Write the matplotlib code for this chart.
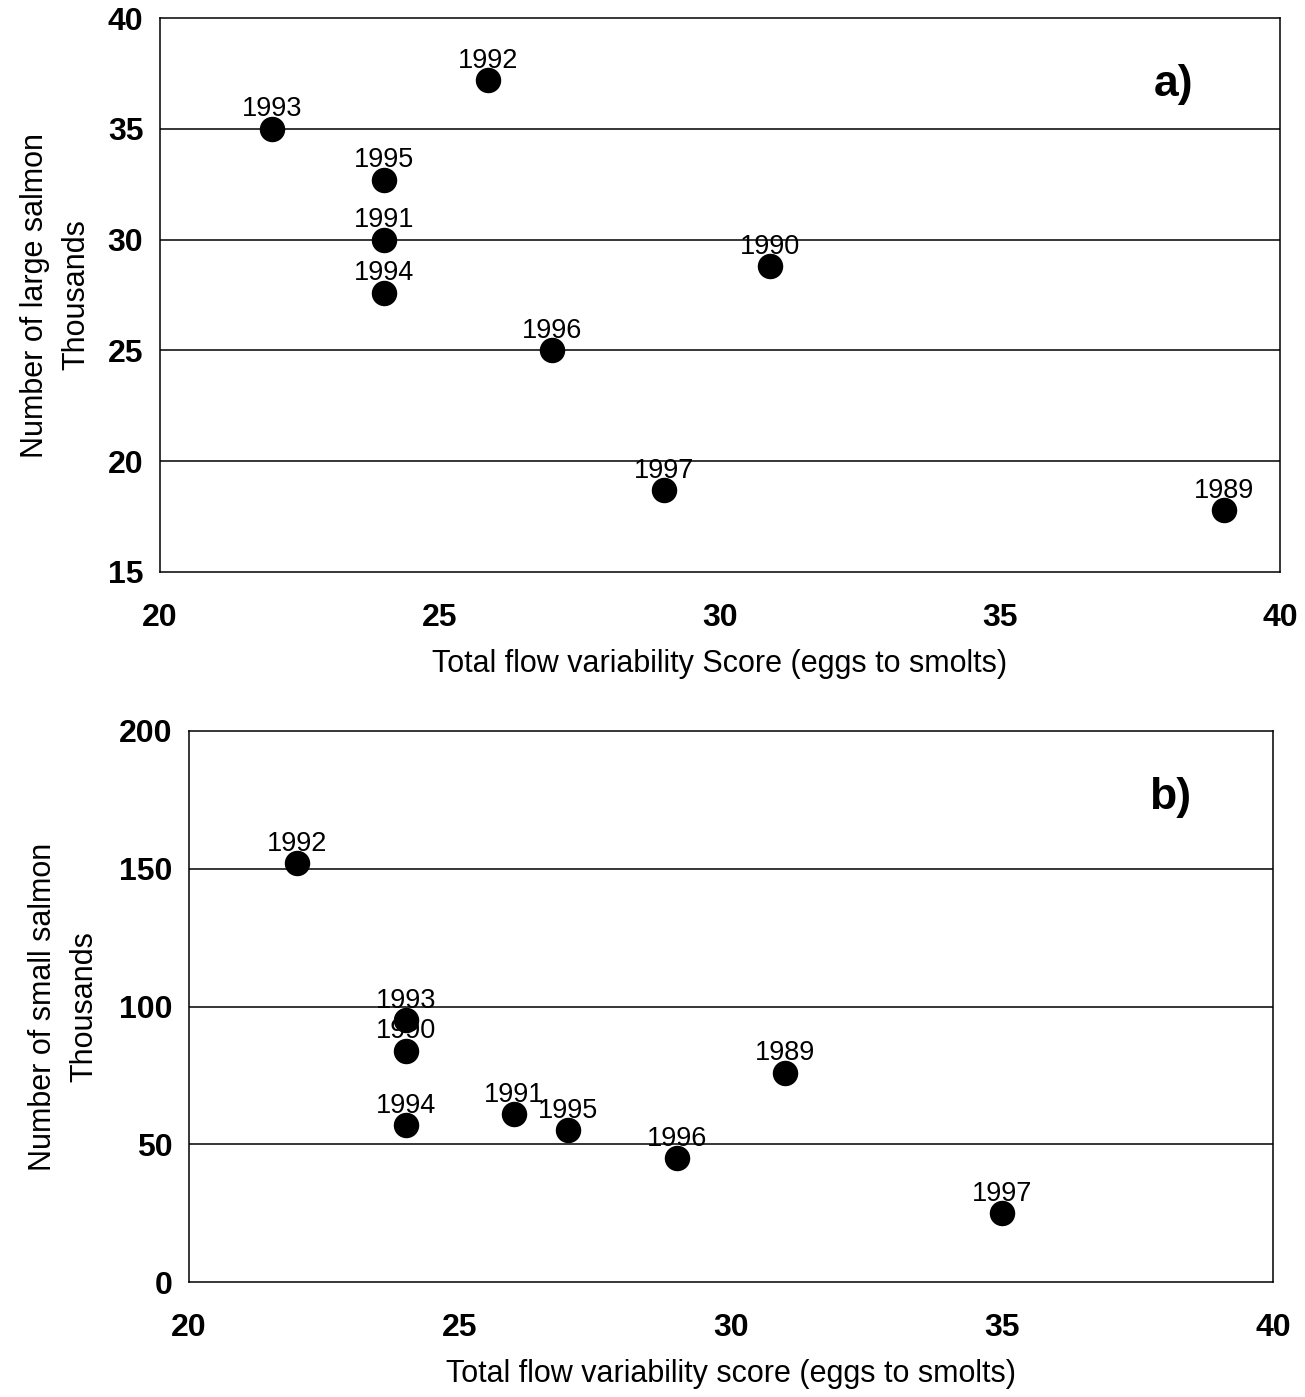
import matplotlib
matplotlib.use("Agg")
import matplotlib.pyplot as plt

plt.rcParams["font.family"] = ["Liberation Sans", "DejaVu Sans"]

# panel a) large salmon
years_a = ["1993", "1992", "1995", "1991", "1994", "1996", "1990", "1997", "1989"]
flow_a = [22, 25.85, 24, 24, 24, 27, 30.9, 29, 39]
large_a = [35.0, 37.2, 32.7, 30.0, 27.6, 25.0, 28.8, 18.7, 17.8]

# panel b) small salmon
years_b = ["1992", "1993", "1990", "1994", "1991", "1995", "1996", "1989", "1997"]
flow_b = [22, 24, 24, 24, 26, 27, 29, 31, 35]
small_b = [152, 95, 84, 57, 61, 55, 45, 76, 25]

fig = plt.figure(figsize=(13.05, 13.97), dpi=100)
W, H = 1305, 1397


def make_axes(left, right, top, bottom):
    return fig.add_axes([left / W, 1 - bottom / H, (right - left) / W, (bottom - top) / H])


def style(ax, ylim, yticks, xlabel, ylabel, tag, ypad):
    ax.set_xlim(20, 40)
    ax.set_ylim(*ylim)
    ax.set_xticks([20, 25, 30, 35, 40])
    ax.set_yticks(yticks)
    ax.tick_params(length=0, labelsize=23)
    ax.tick_params(axis="x", pad=22)
    ax.tick_params(axis="y", pad=12)
    for lab in ax.get_xticklabels() + ax.get_yticklabels():
        lab.set_fontweight("bold")
    for y in yticks[1:-1]:
        ax.axhline(y, color="black", lw=1.1, zorder=1)
    for s in ax.spines.values():
        s.set_linewidth(1.1)
    ax.set_xlabel(xlabel, fontsize=22, labelpad=12)
    ax.set_ylabel(ylabel, fontsize=22, labelpad=ypad, linespacing=1.5)
    ax.text(0.905, 0.88, tag, transform=ax.transAxes, fontsize=32,
            fontweight="bold", ha="center", va="center")


ax1 = make_axes(160, 1280, 18, 572)
ax1.scatter(flow_a, large_a, s=300, color="black", zorder=3)
for x, y, t in zip(flow_a, large_a, years_a):
    ax1.annotate(t, (x, y), xytext=(0, 14), textcoords="offset points",
                 ha="center", va="center", fontsize=19.5, zorder=4)
style(ax1, (15, 40), [15, 20, 25, 30, 35, 40],
      "Total flow variability Score (eggs to smolts)",
      "Number of large salmon\nThousands", "a)", 12)

ax2 = make_axes(189, 1273, 731, 1282)
ax2.scatter(flow_b, small_b, s=300, color="black", zorder=3)
for x, y, t in zip(flow_b, small_b, years_b):
    ax2.annotate(t, (x, y), xytext=(0, 14), textcoords="offset points",
                 ha="center", va="center", fontsize=19.5, zorder=4)
style(ax2, (0, 200), [0, 50, 100, 150, 200],
      "Total flow variability score (eggs to smolts)",
      "Number of small salmon\nThousands", "b)", 14)

fig.savefig("out.png", dpi=100)
